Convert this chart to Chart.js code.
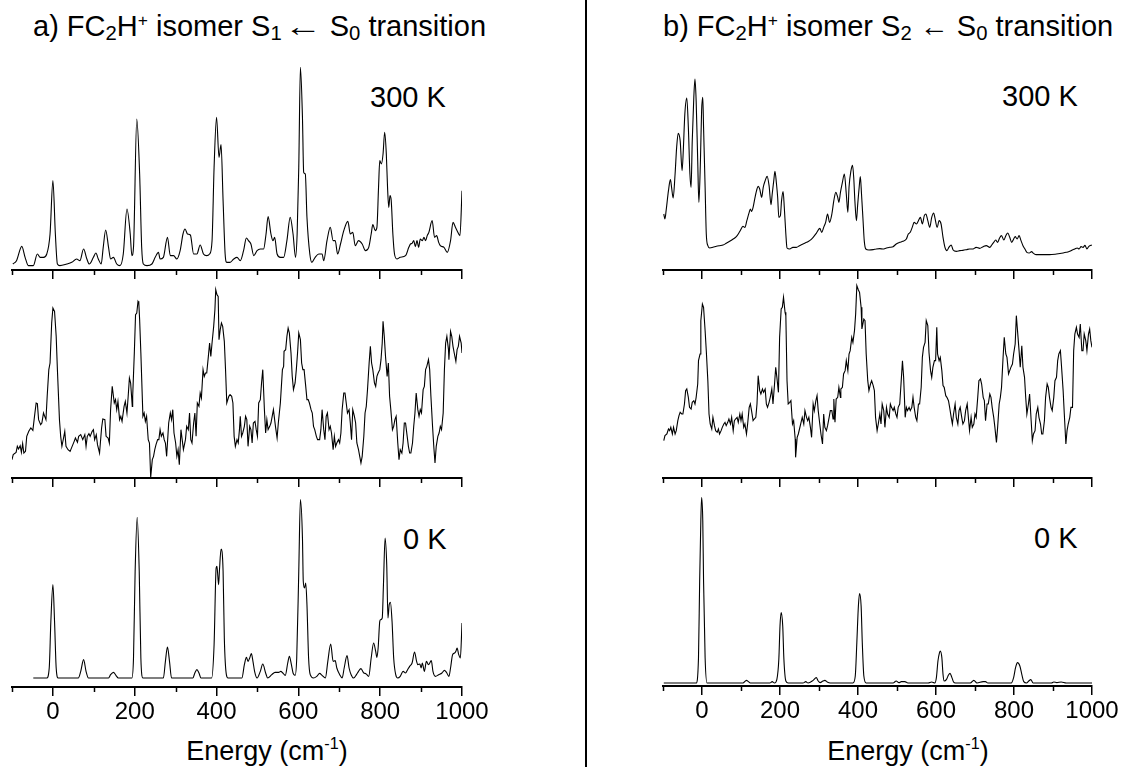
<!DOCTYPE html>
<html>
<head>
<meta charset="utf-8">
<script src="https://cdn.jsdelivr.net/npm/chart.js@4.4.1/dist/chart.umd.min.js"></script>
<style>
body { margin: 0; background: #fff; width: 1135px; height: 767px; overflow: hidden; position: relative;
       font-family: "Liberation Sans", Arial, sans-serif; color: #000; }
canvas { position: absolute; }
.t { position: absolute; white-space: nowrap; line-height: 1; }
.sub { font-size: 0.7em; position: relative; top: 0.22em; }
.sup { font-size: 0.6em; position: relative; top: -0.6em; }
.arr { display: inline-block; transform-origin: left center; }
.divider { position: absolute; left: 585px; top: 0; width: 1.5px; height: 767px; background: #000; }
</style>
</head>
<body>
<div class="divider"></div>
<div class="t" style="left:33px; top:12px; font-size:29px;">a) FC<span class="sub">2</span>H<span class="sup">+</span> isomer S<span class="sub">1</span><span class="arr" data-w="38" style="margin-left:2px">&larr;</span> S<span class="sub">0</span> transition</div>
<div class="t" style="left:663px; top:12px; font-size:29px;">b) FC<span class="sub">2</span>H<span class="sup">+</span> isomer S<span class="sub">2</span> <span class="arr" data-w="29">&larr;</span> S<span class="sub">0</span> transition</div>
<div class="t" style="left:370px; top:83px; font-size:29px;">300 K</div>
<div class="t" style="left:1002px; top:82px; font-size:29px;">300 K</div>
<div class="t" style="left:403px; top:525px; font-size:29px;">0 K</div>
<div class="t" style="left:1034px; top:524px; font-size:29px;">0 K</div>
<div class="t" style="left:117px; width:300px; text-align:center; top:738px; font-size:27px;">Energy (cm<span class="sup" style="top:-0.7em">-1</span>)</div>
<div class="t" style="left:758px; width:300px; text-align:center; top:738px; font-size:27px;">Energy (cm<span class="sup" style="top:-0.7em">-1</span>)</div>
<script>
// energy (cm-1), intensity (arb. units)
var a300 = [[-98,18],[-89,28],[-76,71],[-68,38],[-60,13],[-48,13],[-38,48],[-31,38],[-23,38],[-15,48],[-7,108],[0,268],[6,108],[11,18],[17,13],[34,18],[46,23],[58,33],[66,28],[75,63],[83,33],[89,18],[99,38],[105,51],[111,33],[118,18],[123,68],[129,120],[136,68],[141,33],[148,38],[156,18],[164,13],[172,48],[181,183],[189,108],[193,43],[197,68],[205,453],[212,288],[217,68],[221,18],[230,13],[242,18],[250,38],[258,53],[262,33],[270,38],[280,98],[287,43],[295,43],[303,33],[311,58],[318,108],[323,123],[329,108],[336,105],[344,48],[352,48],[360,75],[368,48],[376,43],[383,48],[389,88],[394,308],[400,458],[406,338],[411,376],[416,208],[421,48],[425,23],[433,23],[442,33],[450,38],[458,28],[466,58],[473,96],[478,88],[484,78],[491,43],[499,58],[507,63],[515,63],[521,108],[526,160],[533,108],[538,88],[542,98],[548,48],[556,38],[564,38],[572,88],[580,158],[587,108],[593,38],[597,108],[601,308],[605,608],[610,458],[613,293],[617,288],[621,158],[628,48],[633,23],[641,38],[650,48],[658,48],[662,28],[670,88],[678,128],[685,88],[690,88],[696,48],[703,78],[711,118],[721,146],[727,108],[733,113],[739,73],[747,88],[756,78],[764,58],[772,68],[778,108],[782,136],[788,118],[792,128],[796,248],[799,328],[803,318],[807,348],[811,413],[815,348],[818,248],[821,188],[824,223],[827,208],[831,108],[835,48],[841,33],[849,38],[862,43],[870,68],[874,78],[878,80],[882,88],[886,70],[890,88],[894,68],[898,93],[903,88],[907,98],[911,88],[915,103],[919,113],[927,148],[933,98],[938,103],[943,83],[947,73],[956,68],[964,53],[972,88],[978,143],[984,128],[988,118],[995,103],[1000,238]];

var aMid = [[-100,55],[-97,70],[-90,77],[-87,95],[-84,87],[-80,97],[-77,77],[-74,103],[-71,75],[-67,80],[-64,125],[-59,140],[-54,150],[-49,143],[-45,185],[-41,225],[-38,223],[-35,175],[-30,160],[-27,165],[-23,195],[-20,185],[-17,175],[-14,245],[-10,325],[-7,345],[-3,465],[0,510],[4,500],[8,425],[11,325],[16,175],[19,125],[22,95],[26,120],[29,140],[32,95],[37,85],[42,80],[47,95],[52,110],[55,120],[60,107],[63,125],[68,130],[73,115],[78,130],[81,95],[84,125],[88,133],[91,125],[96,140],[99,145],[102,115],[106,130],[109,100],[114,75],[119,150],[122,177],[127,175],[130,125],[135,120],[138,105],[141,205],[145,275],[150,225],[153,235],[156,205],[159,230],[163,175],[166,185],[169,170],[174,215],[177,230],[181,195],[184,245],[187,300],[190,285],[194,215],[195,245],[199,375],[202,490],[205,495],[208,530],[210,525],[212,475],[215,375],[220,185],[223,195],[226,170],[229,185],[233,115],[236,105],[239,2],[243,55],[246,65],[249,85],[252,100],[256,115],[259,115],[262,145],[265,125],[269,135],[272,115],[275,105],[278,65],[283,165],[287,195],[290,175],[293,205],[296,135],[300,105],[303,65],[306,85],[309,40],[313,145],[316,115],[319,85],[324,115],[327,155],[331,145],[334,195],[337,115],[340,105],[344,165],[347,195],[350,125],[353,225],[357,215],[360,255],[363,240],[367,325],[370,305],[373,315],[376,315],[380,365],[383,405],[386,365],[389,405],[393,455],[396,505],[398,565],[401,550],[404,545],[406,415],[409,445],[412,465],[415,455],[419,410],[422,325],[425,225],[430,245],[433,250],[437,245],[440,225],[443,125],[446,95],[450,115],[453,105],[456,145],[458,185],[461,125],[464,135],[468,155],[471,185],[474,175],[477,95],[481,155],[484,145],[487,105],[490,165],[494,170],[497,145],[500,125],[503,225],[507,235],[510,285],[513,325],[517,205],[520,135],[523,175],[526,145],[530,155],[533,165],[536,185],[539,205],[544,155],[548,120],[551,165],[556,225],[561,325],[564,335],[565,380],[569,385],[572,425],[575,450],[578,435],[582,375],[585,305],[588,265],[592,285],[595,325],[598,375],[601,435],[605,415],[608,345],[611,325],[614,325],[618,275],[621,235],[624,235],[627,225],[631,205],[634,195],[637,155],[640,145],[644,125],[647,115],[652,115],[655,145],[658,205],[662,145],[665,115],[668,185],[671,195],[675,145],[678,155],[681,135],[685,85],[688,125],[691,95],[694,105],[698,115],[701,105],[704,135],[707,205],[711,255],[714,255],[717,225],[720,195],[724,205],[727,165],[730,115],[733,205],[737,185],[740,165],[743,105],[747,85],[750,65],[753,45],[756,65],[760,125],[763,195],[766,215],[769,265],[773,345],[776,395],[779,345],[782,325],[786,285],[789,275],[792,305],[795,315],[799,325],[802,355],[805,405],[807,470],[810,425],[813,365],[817,305],[820,345],[823,245],[826,205],[830,145],[833,155],[836,175],[839,185],[843,105],[846,55],[849,85],[853,75],[856,105],[859,165],[862,165],[866,125],[869,95],[872,75],[875,75],[879,105],[882,155],[885,195],[888,255],[892,205],[895,185],[898,205],[901,195],[905,265],[908,275],[911,325],[914,335],[918,355],[921,325],[924,245],[928,155],[931,95],[934,45],[937,95],[941,125],[944,135],[947,155],[950,145],[954,195],[957,325],[960,405],[963,425],[967,385],[968,355],[972,440],[975,425],[978,395],[981,375],[985,350],[988,385],[991,395],[994,425],[998,405],[1000,375]];

var a0 = [[-48,27],[-15,27],[-9,57],[-5,197],[0,307],[4,197],[8,57],[13,27],[62,27],[68,47],[75,82],[81,47],[87,27],[136,27],[141,37],[148,44],[154,35],[160,27],[193,27],[197,87],[201,347],[206,509],[211,347],[215,87],[220,27],[270,27],[275,77],[280,120],[285,77],[290,27],[342,27],[347,42],[352,52],[357,42],[362,27],[388,27],[394,127],[399,357],[401,362],[405,307],[407,347],[411,414],[416,347],[419,147],[424,37],[428,27],[462,27],[468,67],[473,89],[477,77],[481,87],[485,100],[489,77],[493,47],[499,27],[507,47],[513,69],[520,42],[525,27],[535,37],[543,44],[552,44],[557,47],[562,42],[568,35],[574,72],[578,92],[583,67],[587,42],[592,35],[596,87],[601,347],[605,562],[610,447],[612,317],[615,297],[618,312],[621,247],[625,87],[629,37],[637,27],[645,32],[652,41],[658,35],[666,27],[672,77],[679,129],[685,77],[690,79],[694,57],[701,37],[707,27],[712,57],[719,94],[724,57],[729,37],[735,27],[742,37],[747,47],[753,55],[760,42],[765,40],[772,32],[778,87],[784,132],[789,107],[792,89],[795,117],[799,197],[801,202],[805,207],[808,307],[812,447],[816,367],[819,207],[822,247],[825,254],[829,197],[833,87],[838,37],[843,27],[849,32],[856,47],[862,42],[867,52],[872,62],[878,72],[884,105],[889,77],[892,67],[897,69],[900,57],[903,72],[908,47],[913,77],[918,67],[925,79],[929,47],[935,32],[943,37],[951,42],[957,50],[962,44],[968,32],[972,57],[977,97],[982,102],[985,107],[988,117],[992,97],[996,87],[1000,192]];

var b300 = [[-98,168],[-95,153],[-92,178],[-86,238],[-81,271],[-78,248],[-74,216],[-69,288],[-65,368],[-61,410],[-56,388],[-51,298],[-48,358],[-44,468],[-39,516],[-35,428],[-31,288],[-28,248],[-25,388],[-21,518],[-18,573],[-15,508],[-11,328],[-8,203],[-4,328],[-1,478],[2,518],[4,428],[8,248],[11,108],[15,73],[20,66],[28,68],[37,71],[45,73],[54,75],[62,80],[71,86],[80,93],[88,100],[93,108],[98,118],[105,131],[110,128],[115,148],[121,173],[124,183],[127,176],[131,188],[136,218],[141,243],[144,251],[148,243],[153,218],[157,248],[162,268],[167,281],[172,253],[177,196],[180,228],[184,268],[187,296],[191,258],[194,218],[197,158],[201,163],[204,208],[208,235],[211,188],[215,108],[218,66],[225,63],[233,68],[242,68],[250,73],[259,78],[268,83],[276,88],[285,98],[293,110],[302,125],[307,113],[312,128],[317,143],[322,168],[327,143],[333,168],[338,208],[343,233],[348,218],[351,203],[355,233],[360,263],[365,288],[370,228],[374,173],[377,248],[382,298],[386,314],[389,278],[392,208],[396,148],[399,193],[403,248],[406,280],[409,228],[413,148],[416,88],[420,63],[428,60],[439,61],[447,63],[456,64],[464,63],[473,66],[481,68],[490,70],[498,78],[507,83],[515,86],[524,93],[529,108],[534,113],[539,128],[544,143],[550,138],[555,148],[560,158],[565,138],[570,163],[574,168],[579,148],[584,128],[589,158],[594,171],[597,158],[603,128],[608,148],[613,138],[618,98],[623,68],[628,58],[633,68],[639,75],[644,60],[652,56],[661,58],[669,59],[678,61],[686,63],[695,63],[703,68],[712,65],[721,70],[729,73],[738,68],[743,75],[748,83],[753,90],[758,83],[763,96],[768,103],[774,90],[779,103],[784,111],[789,98],[794,83],[797,88],[803,100],[808,93],[813,103],[818,88],[823,73],[828,63],[833,53],[839,51],[845,55],[850,50],[857,46],[874,46],[891,46],[909,48],[926,51],[934,53],[943,56],[951,61],[956,63],[962,66],[967,63],[972,70],[977,68],[982,74],[987,63],[992,71],[1000,75]];

var bMid = [[-98,112],[-95,127],[-90,132],[-86,147],[-83,142],[-80,152],[-76,132],[-73,152],[-69,132],[-66,142],[-62,172],[-59,187],[-56,197],[-52,192],[-49,192],[-45,222],[-42,262],[-39,267],[-35,242],[-32,212],[-28,207],[-25,227],[-21,232],[-18,222],[-15,242],[-11,282],[-9,352],[-5,372],[-3,472],[1,522],[4,512],[8,442],[11,382],[15,292],[18,192],[21,162],[25,147],[28,182],[32,157],[35,142],[39,137],[42,147],[45,132],[49,142],[52,152],[56,162],[59,167],[62,157],[66,167],[69,177],[73,162],[76,182],[80,142],[83,172],[86,177],[90,182],[93,167],[97,192],[100,172],[103,192],[107,152],[110,162],[114,132],[117,162],[121,212],[124,222],[127,202],[131,172],[134,177],[138,182],[141,222],[144,307],[148,262],[151,252],[155,267],[158,257],[162,267],[165,222],[168,212],[172,227],[175,242],[179,267],[182,222],[186,282],[189,332],[192,302],[196,257],[199,422],[203,507],[206,512],[209,542],[213,497],[215,487],[218,292],[221,222],[225,227],[228,232],[232,162],[235,172],[239,117],[240,62],[244,122],[247,132],[250,147],[254,167],[257,182],[261,162],[264,202],[268,182],[271,172],[274,182],[278,152],[281,122],[285,222],[288,202],[292,232],[295,247],[298,202],[302,162],[305,132],[309,102],[312,192],[315,152],[319,142],[322,157],[326,182],[329,202],[333,202],[336,177],[338,237],[341,167],[344,237],[348,242],[351,272],[355,242],[356,267],[360,272],[363,312],[367,322],[370,352],[374,322],[377,372],[380,382],[384,422],[387,407],[391,442],[394,492],[397,577],[401,564],[404,557],[408,512],[410,447],[415,477],[418,472],[421,372],[425,292],[428,262],[432,282],[435,292],[439,277],[442,262],[445,182],[449,142],[452,162],[456,192],[459,162],[462,222],[466,202],[469,152],[473,212],[476,192],[480,182],[483,222],[486,212],[490,202],[493,212],[497,192],[500,182],[503,212],[507,222],[510,277],[514,352],[517,302],[521,182],[524,212],[527,202],[531,212],[534,202],[538,212],[541,242],[544,212],[548,182],[551,172],[555,222],[558,222],[562,272],[565,362],[568,392],[572,407],[575,472],[579,457],[582,377],[586,322],[589,302],[592,332],[596,352],[599,352],[602,452],[604,372],[608,352],[611,362],[615,322],[618,277],[621,272],[625,247],[628,242],[632,232],[635,212],[639,182],[642,162],[645,192],[649,222],[652,182],[656,162],[659,202],[662,212],[666,182],[669,162],[673,172],[676,202],[680,222],[683,182],[686,142],[690,182],[693,152],[697,162],[700,192],[703,182],[707,242],[710,292],[714,297],[717,282],[721,242],[724,232],[727,172],[731,222],[734,222],[738,252],[741,242],[744,212],[748,182],[751,152],[755,107],[758,152],[762,222],[765,242],[768,272],[772,362],[775,422],[779,372],[782,362],[786,312],[789,322],[792,332],[796,342],[799,372],[803,402],[806,487],[809,442],[813,382],[816,332],[820,397],[823,332],[827,302],[830,242],[833,192],[837,222],[840,252],[844,172],[847,112],[850,132],[854,142],[857,192],[861,212],[864,182],[868,162],[871,132],[874,132],[878,172],[881,242],[885,282],[888,272],[891,242],[895,212],[898,202],[902,242],[905,292],[909,302],[912,352],[915,372],[919,382],[922,332],[926,262],[929,192],[933,102],[936,142],[939,162],[943,182],[946,212],[950,212],[953,382],[956,432],[960,452],[963,432],[967,422],[970,462],[974,382],[977,382],[980,432],[984,412],[987,382],[991,432],[994,447],[997,412],[1000,392]];

var b0 = [[-98,9],[-15,9],[-9,85],[-6,315],[-3,495],[-1,565],[2,495],[4,315],[8,85],[13,9],[105,9],[114,17],[119,13],[124,9],[174,9],[180,13],[186,9],[192,20],[197,80],[200,180],[203,220],[207,180],[210,80],[215,15],[221,9],[259,9],[266,13],[272,9],[285,17],[293,25],[298,15],[303,10],[310,15],[315,17],[321,12],[329,9],[387,9],[393,30],[397,130],[401,240],[404,277],[408,240],[411,130],[415,30],[421,9],[490,9],[498,15],[505,10],[511,13],[520,13],[528,9],[580,9],[589,12],[597,9],[601,25],[605,75],[609,100],[611,105],[615,85],[618,35],[621,15],[627,20],[632,33],[636,38],[640,28],[645,12],[650,9],[688,9],[697,17],[705,9],[721,13],[727,13],[733,9],[793,9],[799,25],[804,55],[809,70],[815,60],[820,35],[825,13],[832,9],[838,15],[843,19],[849,9],[896,9],[902,12],[910,10],[921,12],[934,9],[1000,9]];

var energyMin = -100, energyMax = 1000;

// stretch the arrows in the titles to the width they have in the figure
document.querySelectorAll('.arr').forEach(function (el) {
    var w = el.getBoundingClientRect().width;
    var target = +el.dataset.w;
    el.style.transform = 'scaleX(' + (target / w) + ')';
    el.style.marginRight = (target - w) + 'px';
});

// short ticks at the odd hundreds
var minorTicks = {
    id: 'minorTicks',
    afterDraw: function (chart) {
        var s = chart.scales.x, ctx = chart.ctx, b = chart.chartArea.bottom;
        ctx.save();
        ctx.strokeStyle = '#000';
        ctx.lineWidth = 1.5;
        s.ticks.forEach(function (t) {
            if (t.value % 200 !== 0) {
                var px = Math.round(s.getPixelForValue(t.value)) + 0.5;
                ctx.beginPath();
                ctx.moveTo(px, b);
                ctx.lineTo(px, b + 5);
                ctx.stroke();
            }
        });
        ctx.restore();
    }
};

var panels = [
    { data: a300, left: 12, width: 450, axis: 270, h: 220, labels: false, smooth: true },
    { data: aMid, left: 12, width: 450, axis: 478, h: 200, labels: false, smooth: false },
    { data: a0, left: 12, width: 450, axis: 687, h: 200, labels: true, smooth: true },
    { data: b300, left: 663, width: 429, axis: 270, h: 220, labels: false, smooth: true },
    { data: bMid, left: 663, width: 429, axis: 478, h: 200, labels: false, smooth: false },
    { data: b0, left: 663, width: 429, axis: 686, h: 200, labels: true, smooth: true }
];

panels.forEach(makeChart);

function makeChart(p) {
    var padL = 10, padR = 40, padT = 4;
    var axisH = p.labels ? 46 : 12;
    var canvas = document.createElement('canvas');
    canvas.width = p.width + padL + padR;
    canvas.height = padT + p.h + axisH;
    canvas.style.left = (p.left - padL) + 'px';
    canvas.style.top = (p.axis - p.h - padT) + 'px';
    document.body.appendChild(canvas);

    new Chart(canvas, {
        type: 'line',
        data: {
            datasets: [{
                data: p.data.map(function (d) { return { x: d[0], y: d[1] }; }),
                borderColor: '#000',
                borderWidth: 1.1,
                pointRadius: 0,
                fill: false,
                tension: 0,
                cubicInterpolationMode: p.smooth ? 'monotone' : 'default'
            }]
        },
        options: {
            responsive: false,
            animation: false,
            events: [],
            layout: { padding: { left: padL, right: padR, top: padT, bottom: 0 } },
            plugins: { legend: { display: false }, tooltip: { enabled: false } },
            scales: {
                x: {
                    type: 'linear',
                    min: energyMin,
                    max: energyMax,
                    ticks: {
                        stepSize: 100,
                        autoSkip: false,
                        maxRotation: 0,
                        display: p.labels,
                        color: '#000',
                        padding: 2,
                        font: { family: '"Liberation Sans", Arial, sans-serif', size: 24 },
                        callback: function (v) { return v % 200 === 0 ? String(v) : ''; }
                    },
                    grid: {
                        drawOnChartArea: false,
                        drawTicks: true,
                        tickLength: 9,
                        lineWidth: 1.5,
                        color: function (c) {
                            return c.tick && c.tick.value % 200 === 0 ? '#000' : 'rgba(0,0,0,0)';
                        }
                    },
                    border: { display: true, color: '#000', width: 2 },
                    afterFit: function (s) { s.height = axisH; }
                },
                y: { display: false, min: 0, max: p.h * 3 }
            }
        },
        plugins: [minorTicks]
    });
}
</script>
</body>
</html>
